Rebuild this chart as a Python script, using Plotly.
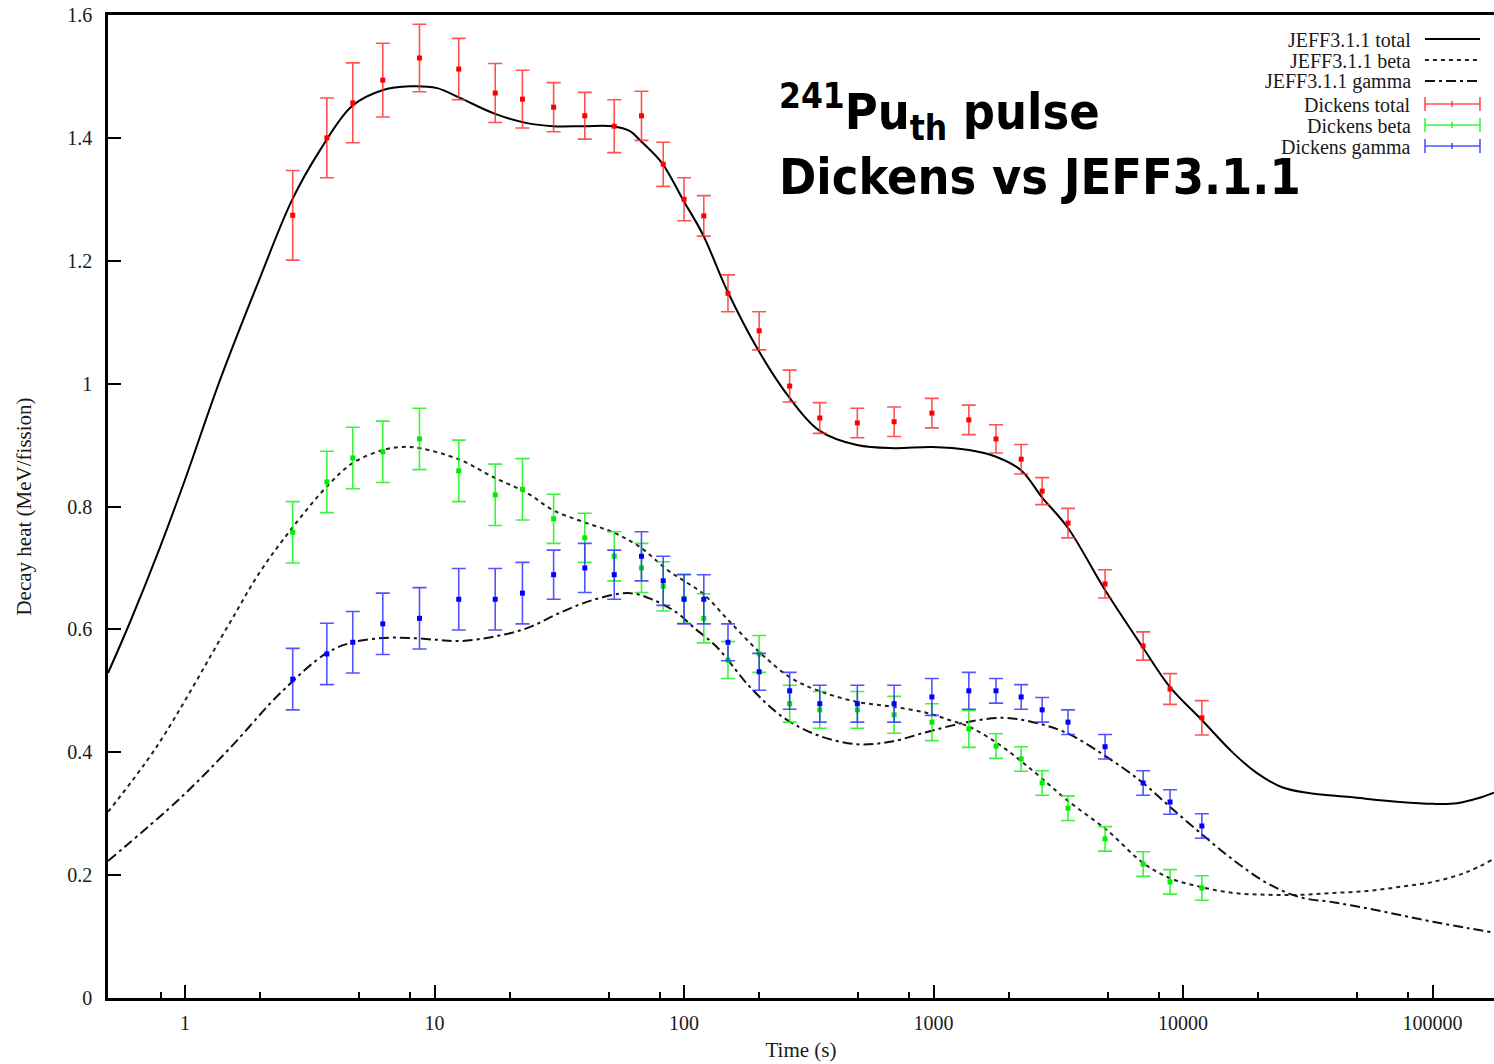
import plotly.graph_objects as go

# ---------------- data ----------------
# Dickens measurement times (s)
t_dickens = [2.7, 3.7, 4.7, 6.2, 8.7, 12.5, 17.5, 22.5, 30, 40, 52.5, 67.5, 82.5, 100, 120,
             150, 200, 265, 350, 495, 695, 985, 1385, 1780, 2245, 2725, 3460, 4870, 6920,
             8870, 11900]
dickens_total = [1.274, 1.400, 1.457, 1.494, 1.530, 1.512, 1.473, 1.463, 1.450, 1.436, 1.419,
                 1.436, 1.357, 1.300, 1.273, 1.147, 1.086, 0.996, 0.944, 0.936, 0.938, 0.952,
                 0.941, 0.910, 0.877, 0.825, 0.773, 0.674, 0.573, 0.503, 0.456]
dickens_total_err = [0.073, 0.065, 0.065, 0.060, 0.055, 0.050, 0.048, 0.047, 0.040, 0.038, 0.043,
                     0.040, 0.036, 0.035, 0.033, 0.030, 0.031, 0.026, 0.025, 0.024, 0.024, 0.024,
                     0.024, 0.023, 0.024, 0.022, 0.024, 0.023, 0.023, 0.025, 0.028]
dickens_beta = [0.758, 0.840, 0.879, 0.889, 0.910, 0.858, 0.819, 0.828, 0.780, 0.749, 0.719,
                0.700, 0.670, 0.650, 0.618, 0.550, 0.560, 0.479, 0.469, 0.469, 0.461, 0.449,
                0.438, 0.410, 0.389, 0.350, 0.309, 0.259, 0.218, 0.189, 0.179]
dickens_beta_err = [0.05, 0.05, 0.05, 0.05, 0.05, 0.05, 0.05, 0.05, 0.04, 0.04, 0.04,
                    0.04, 0.04, 0.04, 0.04, 0.03, 0.03, 0.03, 0.03, 0.03, 0.03, 0.03,
                    0.03, 0.02, 0.02, 0.02, 0.02, 0.02, 0.02, 0.02, 0.02]
dickens_gamma = [0.519, 0.560, 0.579, 0.609, 0.618, 0.649, 0.649, 0.659, 0.689, 0.700, 0.689,
                 0.719, 0.679, 0.649, 0.649, 0.579, 0.531, 0.500, 0.479, 0.479, 0.479, 0.490,
                 0.500, 0.500, 0.490, 0.469, 0.449, 0.409, 0.350, 0.319, 0.280]
dickens_gamma_err = [0.05, 0.05, 0.05, 0.05, 0.05, 0.05, 0.05, 0.05, 0.04, 0.04, 0.04,
                     0.04, 0.04, 0.04, 0.04, 0.03, 0.03, 0.03, 0.03, 0.03, 0.03, 0.03,
                     0.03, 0.02, 0.02, 0.02, 0.02, 0.02, 0.02, 0.02, 0.02]

# JEFF3.1.1 calculated curves
t_jeff_total = [0.491, 0.602, 0.794, 1.0, 1.381, 2.0, 2.685, 3.476, 4.67, 6.22, 7.98, 10.23,
                12.65, 17.48, 23.48, 29.85, 39.4, 51.9, 60.7, 66.6, 81.6, 99.1, 119.2, 148.7,
                198, 263.6, 347.6, 493.6, 694.5, 986, 1388, 1780, 2243, 2722, 3460, 4869, 6914,
                8870, 11920, 15870, 19800, 24940, 31410, 46700, 74070, 100460, 125400, 155000,
                176400]
jeff_total = [0.529, 0.612, 0.734, 0.844, 1.006, 1.173, 1.299, 1.380, 1.452, 1.478, 1.484, 1.481,
              1.465, 1.439, 1.424, 1.419, 1.419, 1.419, 1.411, 1.396, 1.359, 1.299, 1.242, 1.152,
              1.055, 0.978, 0.924, 0.900, 0.895, 0.897, 0.892, 0.881, 0.859, 0.815, 0.765, 0.664,
              0.570, 0.506, 0.452, 0.399, 0.366, 0.343, 0.334, 0.327, 0.319, 0.316, 0.317, 0.326,
              0.334]

t_jeff_beta = [0.491, 0.772, 1.473, 2.0, 2.71, 3.71, 4.71, 6.22, 7.48, 8.75, 12.65, 17.16, 23.48,
               29.85, 39.4, 51.9, 66.6, 85.5, 99.1, 119.2, 152.9, 201.7, 266, 341.4, 493.6, 688,
               941.9, 1164.5, 1401, 1797, 2222, 2673, 3430, 4960, 6914, 8870, 11700, 15870,
               21710, 29440, 39940, 54640, 74070, 100460, 137500, 173200]
jeff_beta = [0.303, 0.410, 0.603, 0.694, 0.767, 0.833, 0.871, 0.892, 0.897, 0.895, 0.876, 0.848,
             0.822, 0.794, 0.775, 0.758, 0.734, 0.697, 0.680, 0.658, 0.612, 0.562, 0.522, 0.501,
             0.482, 0.474, 0.464, 0.452, 0.441, 0.415, 0.387, 0.360, 0.322, 0.273, 0.220, 0.195,
             0.181, 0.171, 0.168, 0.168, 0.171, 0.174, 0.181, 0.189, 0.205, 0.225]

t_jeff_gamma = [0.491, 0.955, 1.515, 2.404, 3.71, 4.71, 6.22, 7.98, 10.23, 12.65, 17.16, 23.48,
                31.84, 43.2, 60.7, 75.1, 93.7, 108.7, 135.6, 183.9, 249.4, 341.4, 493.6, 669.4,
                941.9, 1362, 1900, 2505, 3430, 4960, 6914, 8870, 11700, 15870, 21710, 29440,
                39940, 54640, 74070, 100460, 137500, 173200]
jeff_gamma = [0.223, 0.325, 0.407, 0.496, 0.562, 0.579, 0.586, 0.586, 0.583, 0.581, 0.588, 0.602,
              0.627, 0.648, 0.659, 0.648, 0.627, 0.604, 0.571, 0.506, 0.457, 0.428, 0.413, 0.417,
              0.433, 0.449, 0.456, 0.449, 0.431, 0.392, 0.350, 0.311, 0.269, 0.225, 0.187, 0.164,
              0.156, 0.146, 0.135, 0.124, 0.114, 0.107]

x_major_ticks = [1, 10, 100, 1000, 10000, 100000]
x_major_labels = ["1", "10", "100", "1000", "10000", "100000"]
x_minor_ticks = [0.8, 2, 5, 8, 20, 50, 80, 200, 500, 800, 2000, 5000, 8000,
                 20000, 50000, 80000]
y_ticks = [0, 0.2, 0.4, 0.6, 0.8, 1.0, 1.2, 1.4, 1.6]
y_labels = ["0", "0.2", "0.4", "0.6", "0.8", "1", "1.2", "1.4", "1.6"]

legend_labels = ["JEFF3.1.1 total", "JEFF3.1.1 beta", "JEFF3.1.1 gamma",
                 "Dickens total", "Dickens beta", "Dickens gamma"]

# ---------------- styles ----------------
SERIF = "Liberation Serif, Times New Roman, serif"
TXT = "#1a1a1a"
FS = 21
DOT = "4px,4px"
DASHDOT = "10px,4px,3px,4px"
RED, GREEN, BLUE = "#ff0000", "#00ee00", "#0000ff"
RED_E, GREEN_E, BLUE_E = "rgba(255,40,40,0.8)", "rgba(30,240,30,0.85)", "rgba(40,40,255,0.8)"

W, H = 1494, 1064
L, R, T, B = 108, 0, 15, 66


def PX(x):
    return (x - L) / (W - L - R)


def PY(y):
    return (H - B - y) / (H - B - T)


fig = go.Figure()

fig.add_trace(go.Scatter(x=t_jeff_total, y=jeff_total, mode="lines", name=legend_labels[0],
                         line=dict(color="black", width=2, shape="spline", smoothing=1.0)))
fig.add_trace(go.Scatter(x=t_jeff_beta, y=jeff_beta, mode="lines", name=legend_labels[1],
                         line=dict(color="#222", width=2, dash=DOT, shape="spline", smoothing=1.0)))
fig.add_trace(go.Scatter(x=t_jeff_gamma, y=jeff_gamma, mode="lines", name=legend_labels[2],
                         line=dict(color="#111", width=2, dash=DASHDOT, shape="spline", smoothing=1.0)))

for vals, errs, col, ecol, nm in [
    (dickens_total, dickens_total_err, RED, RED_E, legend_labels[3]),
    (dickens_beta, dickens_beta_err, GREEN, GREEN_E, legend_labels[4]),
    (dickens_gamma, dickens_gamma_err, BLUE, BLUE_E, legend_labels[5]),
]:
    fig.add_trace(go.Scatter(
        x=t_dickens, y=vals, mode="markers", name=nm,
        marker=dict(symbol="square", size=5, color=col, line=dict(width=0)),
        error_y=dict(type="data", array=errs, visible=True, color=ecol, thickness=1.6, width=7),
    ))

# ---------------- manual legend (text right, sample left) ----------------
row_y = [39, 60, 81, 104, 125, 146]
ann = []
shapes = []
for lab, yy in zip(legend_labels, row_y):
    ann.append(dict(x=PX(1413), y=PY(yy + 1), xref="paper", yref="paper", text=lab,
                    showarrow=False, xanchor="right", yanchor="middle",
                    font=dict(family=SERIF, size=20, color=TXT)))
x0s, x1s = PX(1425), PX(1480)
shapes.append(dict(type="line", xref="paper", yref="paper", x0=x0s, x1=x1s, y0=PY(39), y1=PY(39),
                   line=dict(color="black", width=2)))
shapes.append(dict(type="line", xref="paper", yref="paper", x0=x0s, x1=x1s, y0=PY(60), y1=PY(60),
                   line=dict(color="#222", width=2, dash=DOT)))
shapes.append(dict(type="line", xref="paper", yref="paper", x0=x0s, x1=x1s, y0=PY(81), y1=PY(81),
                   line=dict(color="#111", width=2, dash=DASHDOT)))
for yy, ecol in zip(row_y[3:], [RED_E, GREEN_E, BLUE_E]):
    shapes.append(dict(type="line", xref="paper", yref="paper", x0=x0s, x1=x1s, y0=PY(yy), y1=PY(yy),
                       line=dict(color=ecol, width=1.6)))
    for xx in (1425, 1480):
        shapes.append(dict(type="line", xref="paper", yref="paper", x0=PX(xx), x1=PX(xx),
                           y0=PY(yy - 7), y1=PY(yy + 7), line=dict(color=ecol, width=1.6)))
    shapes.append(dict(type="line", xref="paper", yref="paper", x0=PX(1452), x1=PX(1452),
                       y0=PY(yy - 3), y1=PY(yy + 3), line=dict(color=ecol, width=1.6)))

# ---------------- title annotation ----------------
TFONT = "DejaVu Sans Condensed, Liberation Sans, Arial, sans-serif"
ann.append(dict(x=PX(777), y=PY(208), xref="paper", yref="paper",
                text="<b><sup>241</sup>Pu<sub>th</sub> pulse<br>Dickens vs JEFF3.1.1</b>",
                showarrow=False, align="left",
                xanchor="left", yanchor="bottom", font=dict(family=TFONT, size=50, color="black")))

fig.update_layout(
    width=W, height=H,
    margin=dict(l=L, r=R, t=T, b=B, pad=0),
    paper_bgcolor="white", plot_bgcolor="white",
    showlegend=False,
    annotations=ann, shapes=shapes,
    font=dict(family=SERIF, size=FS, color=TXT),
    xaxis=dict(
        type="log", range=[-0.309, 5.2465],
        tickmode="array", tickvals=x_major_ticks, ticktext=x_major_labels,
        ticks="inside", ticklen=13, tickwidth=2, tickcolor="black",
        showline=True, linewidth=2.5, linecolor="black", mirror=True,
        showgrid=False, zeroline=False,
        minor=dict(tickmode="array", tickvals=x_minor_ticks, ticks="inside", ticklen=6,
                   tickwidth=2, tickcolor="black", showgrid=False),
        tickfont=dict(family=SERIF, size=20, color=TXT),
        ticklabelstandoff=5,
        title=dict(text="Time (s)", font=dict(family=SERIF, size=FS, color=TXT), standoff=10),
    ),
    yaxis=dict(
        range=[0, 1.6],
        tickmode="array", tickvals=y_ticks, ticktext=y_labels,
        ticks="inside", ticklen=13, tickwidth=2, tickcolor="black",
        showline=True, linewidth=2.5, linecolor="black", mirror=False,
        showgrid=False, zeroline=False,
        tickfont=dict(family=SERIF, size=20, color=TXT),
        ticklabelstandoff=9,
        title=dict(text="Decay heat (MeV/fission)", font=dict(family=SERIF, size=FS, color=TXT),
                   standoff=30),
    ),
)

fig.write_html("out.html")
